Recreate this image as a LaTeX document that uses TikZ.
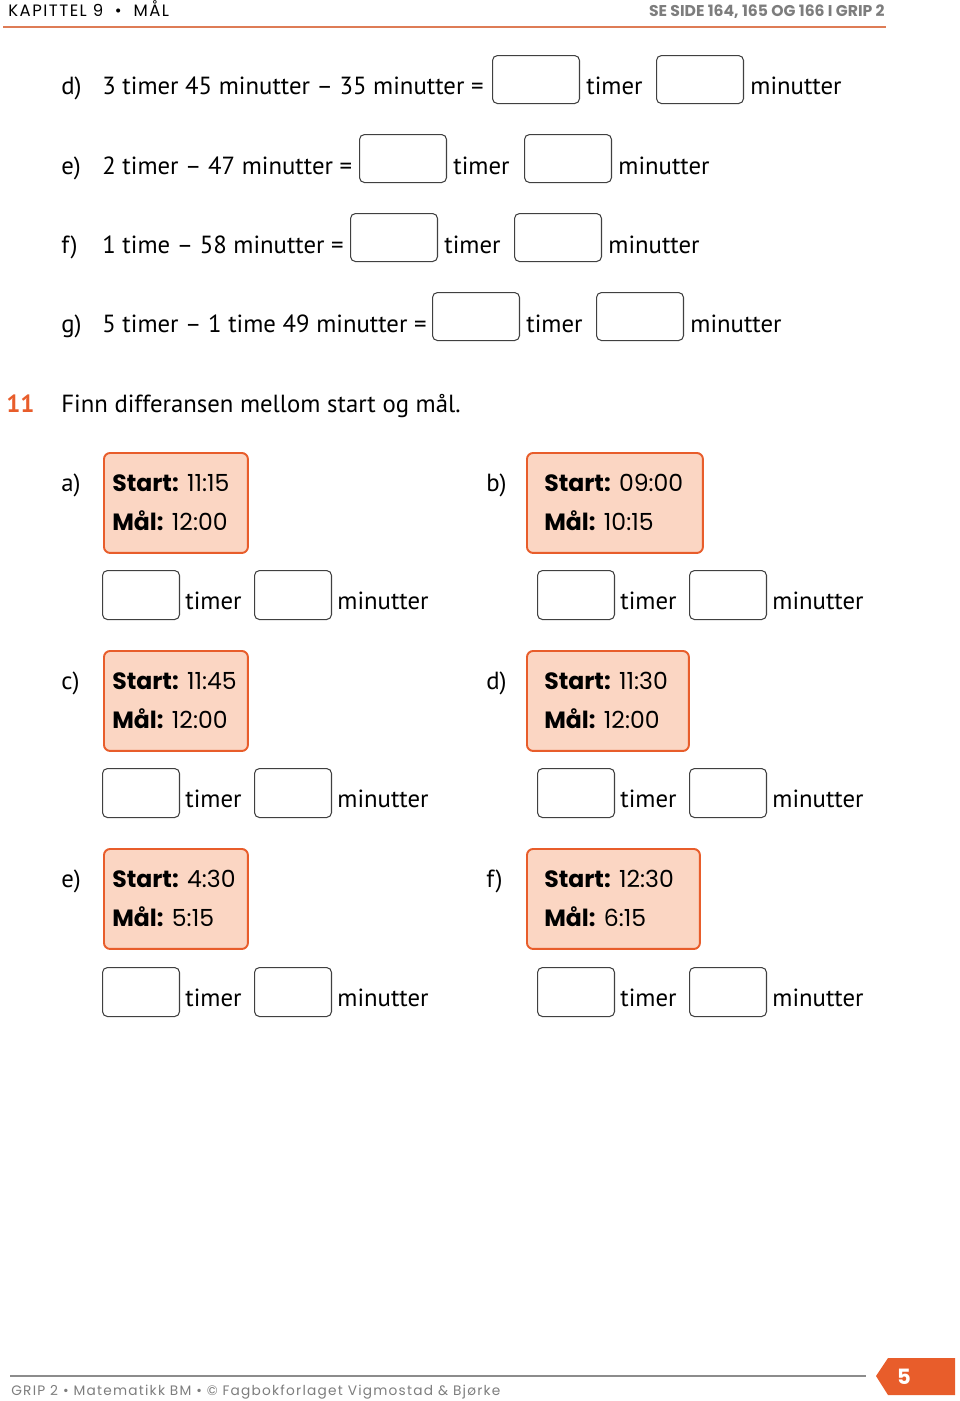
\documentclass[tikz,border=0pt]{standalone}
\usepackage{fontspec}
\setmainfont{PT Sans}
\newfontfamily\headfont{Poppins}
\newfontfamily\footfont[LetterSpace=9]{Poppins}
\usepackage{xcolor}
\usepackage{tikz}
\usetikzlibrary{positioning, calc}
\definecolor{grip_orange}{RGB}{232, 93, 43}
\definecolor{grip_rule}{RGB}{222, 124, 86}
\definecolor{grip_peach}{RGB}{251, 214, 195}
\definecolor{grip_gray}{RGB}{125, 125, 125}
\newcommand{\Body}{\fontsize{14.1}{17}\selectfont}
\newcommand{\Clock}{\headfont\fontsize{13.4}{16}\selectfont}

\begin{document}
\begin{tikzpicture}[
        x=0.02cm, y=-0.02cm,
        txt/.style={anchor=base west, inner sep=0pt, font=\Body},
        word/.style={txt, xshift=0.12cm},
        ansbox/.style={draw=black!75, line width=0.6pt, rounded corners=2.8pt,
                       anchor=north west, inner sep=0pt,
                       minimum width=1.74cm, minimum height=0.96cm},
        smallbox/.style={ansbox, minimum width=1.54cm, minimum height=0.98cm},
        clockbox/.style={draw=grip_orange, fill=grip_peach, line width=1.1pt,
                         rounded corners=3.5pt, anchor=north west, inner sep=0pt,
                         minimum height=2cm},
        clk/.style={anchor=base west, inner sep=0pt, font=\Clock},
        head/.style={inner sep=0pt, font=\footfont\fontsize{9.4}{11}\selectfont},
      ]
        \useasboundingbox (0,0) rectangle (960,1401);

        % header
        \node[head, anchor=base west] (chapter) at (8,16) {KAPITTEL 9\ \ \textbullet\ \ MÅL};
        \node[head, anchor=base east, text=grip_gray, font=\headfont\bfseries\fontsize{8.9}{10}\selectfont]
          (seeside) at (885,16) {SE SIDE 164, 165 OG 166 I GRIP 2};
        \coordinate (rule_l) at (3,27);
        \coordinate (rule_r) at (886,27);
        \draw[grip_rule, line width=1.1pt] (rule_l) -- (rule_r);

        % oppgave d - g
        \node[txt] (dlbl) at (61,94) {d)};
        \node[txt] (dexpr) at (102,94) {3 timer 45 minutter – 35 minutter =};
        \node[ansbox] (dbox1) at (492,55) {};
        \node[word] (dtimer) at (dbox1.east |- dlbl.base) {timer};
        \node[ansbox] (dbox2) at (656,55) {};
        \node[word] (dmin) at (dbox2.east |- dlbl.base) {minutter};

        \node[txt] (elbl) at (61,174) {e)};
        \node[txt] (eexpr) at (102,174) {2 timer – 47 minutter =};
        \node[ansbox] (ebox1) at (359,134) {};
        \node[word] (etimer) at (ebox1.east |- elbl.base) {timer};
        \node[ansbox] (ebox2) at (524,134) {};
        \node[word] (emin) at (ebox2.east |- elbl.base) {minutter};

        \node[txt] (flbl) at (61,253) {f)};
        \node[txt] (fexpr) at (102,253) {1 time – 58 minutter =};
        \node[ansbox] (fbox1) at (350,213) {};
        \node[word] (ftimer) at (fbox1.east |- flbl.base) {timer};
        \node[ansbox] (fbox2) at (514,213) {};
        \node[word] (fmin) at (fbox2.east |- flbl.base) {minutter};

        \node[txt] (glbl) at (61,332) {g)};
        \node[txt] (gexpr) at (102,332) {5 timer – 1 time 49 minutter =};
        \node[ansbox] (gbox1) at (432,292) {};
        \node[word] (gtimer) at (gbox1.east |- glbl.base) {timer};
        \node[ansbox] (gbox2) at (596,292) {};
        \node[word] (gmin) at (gbox2.east |- glbl.base) {minutter};

        % oppgave 11
        \node[txt, text=grip_orange, font=\Body\bfseries] (task) at (6,412) {11};
        \node[txt] (tasktxt) at (61,412) {Finn differansen mellom start og mål.};

        % a) og b)
        \node[txt] (albl) at (61,491) {a)};
        \node[clockbox, minimum width=2.88cm] (aclock) at (103,452) {};
        \node[clk] (astart) at (112,491) {\textbf{Start:} 11:15};
        \node[clk] (agoal) at (112,530) {\textbf{Mål:} 12:00};
        \node[txt] (blbl) at (486,491) {b)};
        \node[clockbox, minimum width=3.52cm] (bclock) at (526,452) {};
        \node[clk] (bstart) at (544,491) {\textbf{Start:} 09:00};
        \node[clk] (bgoal) at (544,530) {\textbf{Mål:} 10:15};

        \node[smallbox] (abox1) at (102,570) {};
        \node[word, xshift=-0.02cm] (atimer) at (abox1.east |- 0,609) {timer};
        \node[smallbox] (abox2) at (254,570) {};
        \node[word, xshift=-0.02cm] (amin) at (abox2.east |- 0,609) {minutter};
        \node[smallbox] (bbox1) at (537,570) {};
        \node[word, xshift=-0.02cm] (btimer) at (bbox1.east |- 0,609) {timer};
        \node[smallbox] (bbox2) at (689,570) {};
        \node[word, xshift=-0.02cm] (bmin) at (bbox2.east |- 0,609) {minutter};

        % c) og d)
        \node[txt] (clbl) at (61,689) {c)};
        \node[clockbox, minimum width=2.88cm] (cclock) at (103,650) {};
        \node[clk] (cstart) at (112,689) {\textbf{Start:} 11:45};
        \node[clk] (cgoal) at (112,728) {\textbf{Mål:} 12:00};
        \node[txt] (dlbl2) at (486,689) {d)};
        \node[clockbox, minimum width=3.24cm] (dclock) at (526,650) {};
        \node[clk] (dstart) at (544,689) {\textbf{Start:} 11:30};
        \node[clk] (dgoal) at (544,728) {\textbf{Mål:} 12:00};

        \node[smallbox] (cbox1) at (102,768) {};
        \node[word, xshift=-0.02cm] (ctimer) at (cbox1.east |- 0,807) {timer};
        \node[smallbox] (cbox2) at (254,768) {};
        \node[word, xshift=-0.02cm] (cmin) at (cbox2.east |- 0,807) {minutter};
        \node[smallbox] (dbox3) at (537,768) {};
        \node[word, xshift=-0.02cm] (dtimer2) at (dbox3.east |- 0,807) {timer};
        \node[smallbox] (dbox4) at (689,768) {};
        \node[word, xshift=-0.02cm] (dmin2) at (dbox4.east |- 0,807) {minutter};

        % e) og f)
        \node[txt] (elbl2) at (61,887) {e)};
        \node[clockbox, minimum width=2.88cm] (eclock) at (103,848) {};
        \node[clk] (estart) at (112,887) {\textbf{Start:} 4:30};
        \node[clk] (egoal) at (112,926) {\textbf{Mål:} 5:15};
        \node[txt] (flbl2) at (486,887) {f)};
        \node[clockbox, minimum width=3.46cm] (fclock) at (526,848) {};
        \node[clk] (fstart) at (544,887) {\textbf{Start:} 12:30};
        \node[clk] (fgoal) at (544,926) {\textbf{Mål:} 6:15};

        \node[smallbox] (ebox3) at (102,967) {};
        \node[word, xshift=-0.02cm] (etimer2) at (ebox3.east |- 0,1006) {timer};
        \node[smallbox] (ebox4) at (254,967) {};
        \node[word, xshift=-0.02cm] (emin2) at (ebox4.east |- 0,1006) {minutter};
        \node[smallbox] (fbox3) at (537,967) {};
        \node[word, xshift=-0.02cm] (ftimer2) at (fbox3.east |- 0,1006) {timer};
        \node[smallbox] (fbox4) at (689,967) {};
        \node[word, xshift=-0.02cm] (fmin2) at (fbox4.east |- 0,1006) {minutter};

        % footer
        \coordinate (foot_l) at (10,1376);
        \coordinate (foot_r) at (866,1376);
        \draw[black!45, line width=0.9pt] (foot_l) -- (foot_r);
        \node[inner sep=0pt, anchor=base west, text=grip_gray, font=\footfont\fontsize{7.8}{9}\selectfont]
          (credits) at (11,1395) {GRIP 2 \textbullet\ Matematikk BM \textbullet\ © Fagbokforlaget Vigmostad \& Bjørke};
        \fill[grip_orange] (876,1376) -- (888,1358) -- (955,1358) -- (955,1395) -- (888,1395) -- cycle;
        \node[text=white, font=\headfont\bfseries\fontsize{12}{14}\selectfont] (pagenum) at (904,1377) {5};
      \end{tikzpicture}
\end{document}
